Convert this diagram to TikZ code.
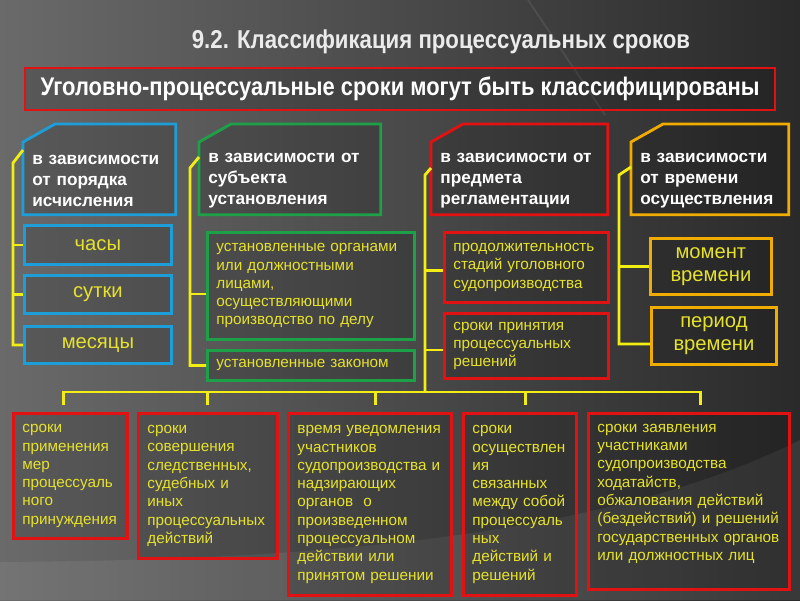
\documentclass[tikz,border=0pt]{standalone}
\usepackage{fontspec}
\setmainfont{Liberation Sans}
\newfontfamily\narrowfont[FakeStretch=0.86]{Liberation Sans}
\usetikzlibrary{calc,backgrounds}

\definecolor{bgleft}{RGB}{106,106,106}
\definecolor{bgright}{RGB}{42,42,42}
\definecolor{blueline}{RGB}{30,158,216}
\definecolor{greenline}{RGB}{30,160,72}
\definecolor{redline}{RGB}{226,18,18}
\definecolor{goldline}{RGB}{240,172,0}
\definecolor{connyellow}{RGB}{242,238,20}
\definecolor{textyellow}{RGB}{230,226,44}

\tikzset{
  conn/.style={draw=connyellow, line width=1.6pt},
  box/.style={rectangle, draw, line width=1.6pt, fill=black, fill opacity=0.15, text opacity=1, anchor=north west, inner ysep=0pt},
  cathead/.style={rectangle, anchor=north west, inner xsep=0.18cm, inner ysep=0pt, align=left, text=white, minimum height=1.34cm, font=\fontsize{9.8}{12}\selectfont\bfseries},
  catline/.style={draw=#1, line width=1.6pt, fill=black, fill opacity=0.15},
  subtext/.style={box, text=textyellow, align=left, inner xsep=0.18cm, font=\fontsize{8.7}{10.4}\selectfont},
  bigtext/.style={box, text=textyellow, align=center, font=\fontsize{11.5}{13.2}\selectfont},
}

\begin{document}
\begin{tikzpicture}[x=0.02cm, y=-0.02cm]
  \useasboundingbox (0,0) rectangle (800,600);
  \begin{scope}[on background layer]
    \shade[left color=bgleft, right color=bgright] (0,0) rectangle (800,600);
    \fill[white, opacity=0.07] (0,600) -- (0,562) .. controls (300,560) and (600,540) .. (800,440) -- (800,600) -- cycle;
    \draw[white, opacity=0.08, line width=1pt] (528,0) -- (605,115);
  \end{scope}

  % title and heading
  \node[text=white!92!black, font=\narrowfont\fontsize{14.7}{16}\selectfont\bfseries] (title) at (441,42) {9.2. Классификация процессуальных сроков};
  \node[box, draw=redline, anchor=center, minimum width=15cm, minimum height=0.84cm, text=white, font=\narrowfont\fontsize{14.5}{16}\selectfont\bfseries] (hdr) at (400,89) {Уголовно-процессуальные сроки могут быть классифицированы};

  % four groups
  \node[cathead, minimum width=3.04cm, text width=2.68cm] (cA) at (23,147) {в~зависимости\\от~порядка\\исчисления};
  \node[cathead, minimum width=3.62cm, text width=3.26cm] (cB) at (199,147) {в~зависимости~от\\субъекта\\установления};
  \node[cathead, minimum width=3.52cm, text width=3.16cm] (cC) at (431,147) {в~зависимости~от\\предмета\\регламентации};
  \node[cathead, minimum width=3.14cm, text width=2.78cm] (cD) at (631,147) {в~зависимости\\от~времени\\осуществления};
  \begin{scope}[on background layer]
    \foreach \n/\c in {cA/blueline, cB/greenline, cC/redline, cD/goldline}
      \draw[catline=\c] ($(\n.north west)+(0,-5)$) -- ($(\n.north west)+(32,-23)$) -- ($(\n.north east)+(0,-23)$) -- (\n.south east) -- (\n.south west) -- cycle;
  \end{scope}

  \node[bigtext, draw=blueline, minimum width=2.94cm, minimum height=0.78cm] (A1) at (23,224) {часы};
  \node[bigtext, draw=blueline, minimum width=2.94cm, minimum height=0.76cm] (A2) at (23,274) {сутки};
  \node[bigtext, draw=blueline, minimum width=2.94cm, minimum height=0.74cm] (A3) at (23,325) {месяцы};

  \node[subtext, draw=greenline, minimum width=4.14cm, text width=3.78cm, minimum height=2.14cm] (B1) at (206,231) {установленные~органами\\или~должностными\\лицами,\\осуществляющими\\производство~по~делу};
  \node[subtext, draw=greenline, minimum width=4.14cm, text width=3.78cm, minimum height=0.6cm] (B2) at (206,349) {установленные~законом};

  \node[subtext, draw=redline, minimum width=3.28cm, text width=2.92cm, minimum height=1.4cm] (C1) at (443,231) {продолжительность\\стадий~уголовного\\судопроизводства};
  \node[subtext, draw=redline, minimum width=3.28cm, text width=2.92cm, minimum height=1.3cm] (C2) at (443,312) {сроки~принятия\\процессуальных\\решений};

  \node[bigtext, draw=goldline, minimum width=2.42cm, minimum height=1.12cm] (D1) at (649,237) {момент\\времени};
  \node[bigtext, draw=goldline, minimum width=2.5cm, minimum height=1.14cm] (D2) at (650,306) {период\\времени};

  % bottom row
  \node[subtext, draw=redline, minimum width=2.28cm, text width=1.92cm, minimum height=2.5cm] (E1) at (12,412) {сроки\\применения\\мер\\процессуаль\\ного\\принуждения};
  \node[subtext, draw=redline, minimum width=2.78cm, text width=2.42cm, minimum height=2.9cm] (E2) at (137,412) {сроки\\совершения\\следственных,\\судебных~и\\иных\\процессуальных\\действий};
  \node[subtext, draw=redline, minimum width=3.26cm, text width=2.9cm, minimum height=3.64cm] (E3) at (287,412) {время~уведомления\\участников\\судопроизводства~и\\надзирающих\\органов~~о\\произведенном\\процессуальном\\действии~или\\принятом~решении};
  \node[subtext, draw=redline, minimum width=2.26cm, text width=1.9cm, minimum height=3.64cm] (E4) at (462,412) {сроки\\осуществлен\\ия\\связанных\\между~собой\\процессуаль\\ных\\действий~и\\решений};
  \node[subtext, draw=redline, minimum width=4.02cm, text width=3.66cm, minimum height=3.52cm] (E5) at (587,412) {сроки~заявления\\участниками\\судопроизводства\\ходатайств,\\обжалования~действий\\(бездействий)~и~решений\\государственных~органов\\или~должностных~лиц\\\mbox{}};

  % connectors
  \coordinate (aBus) at (13,163);
  \coordinate (bBus) at (190,168);
  \coordinate (cBus) at (425,175);
  \coordinate (dBus) at (619,175);
  \draw[conn] ($(cA.north west)+(0,3)$) -- (aBus) |- (A3.west);
  \draw[conn] (A1.west) -- (A1.west -| aBus);
  \draw[conn] (A2.west) -- (A2.west -| aBus);
  \draw[conn] ($(cB.north west)+(0,10)$) -- (bBus) |- (B2.west);
  \draw[conn] ($(B1.west)+(0,8)$) -- ($(B1.west -| bBus)+(0,8)$);
  \draw[conn] ($(cC.north west)+(0,21)$) -- (cBus) -- ($(E1.north -| cBus)+(0,-20)$);
  \draw[conn] ($(C1.west)+(0,3)$) -- ($(C1.west -| cBus)+(0,3)$);
  \draw[conn] ($(C2.west)+(0,4)$) -- ($(C2.west -| cBus)+(0,4)$);
  \draw[conn] ($(cD.north west)+(0,20)$) -- (dBus) |- ($(D2.west)+(0,8)$);
  \draw[conn] (D1.west) -- (D1.west -| dBus);
  \draw[conn] ($(E1.north)+(-7,-20)$) -- ($(E5.north)+(12,-20)$);
  \foreach \n/\dx in {E1/-7, E2/0, E3/6, E4/6, E5/12}
    \draw[conn] ($(\n.north)+(\dx,-21)$) -- ($(\n.north)+(\dx,-7)$);
\end{tikzpicture}
\end{document}
